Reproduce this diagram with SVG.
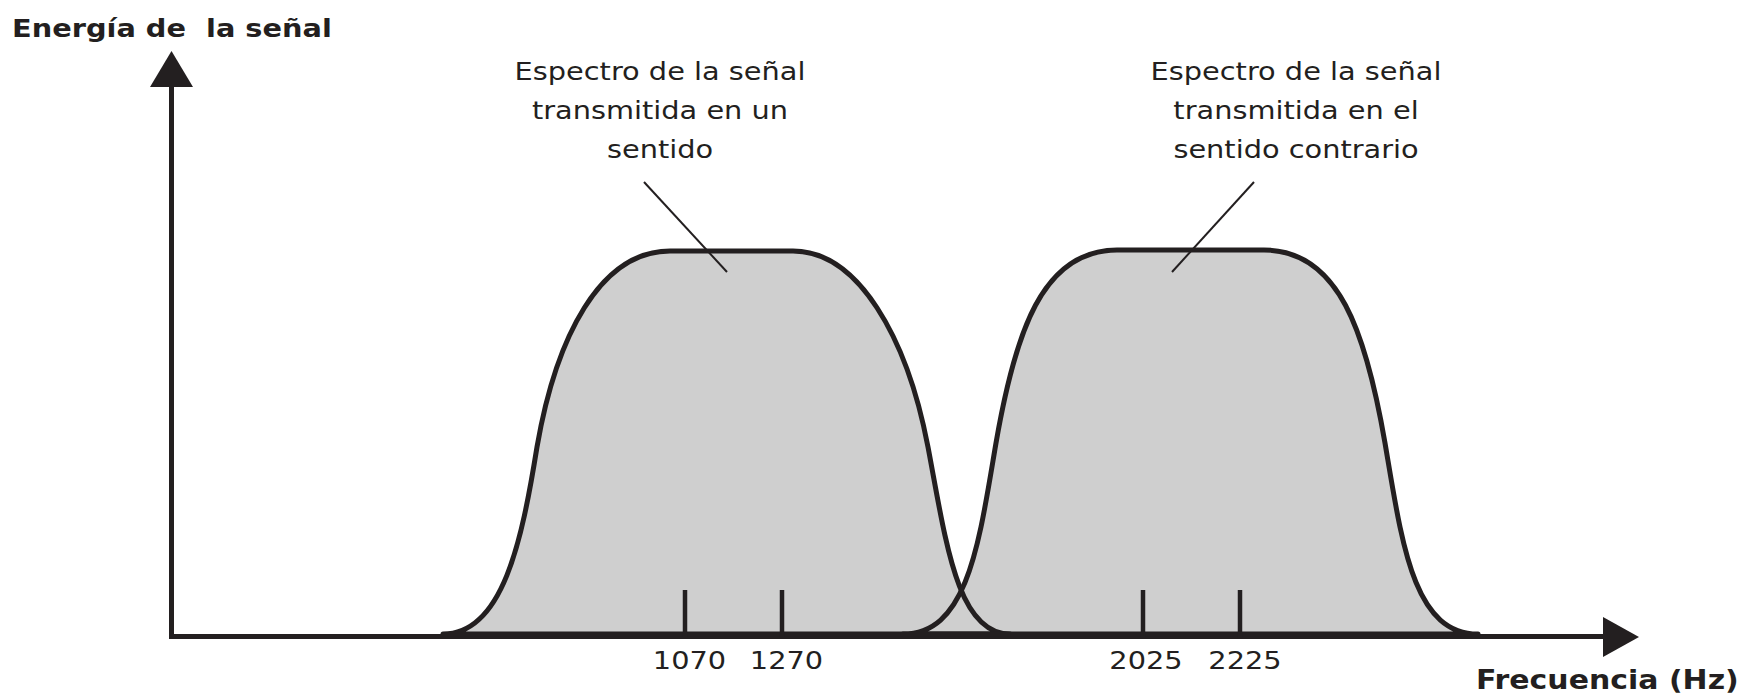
<svg xmlns="http://www.w3.org/2000/svg" width="1739" height="695" viewBox="0 0 1739 695">
<style>
.bump{fill:#cfcfcf;stroke:none}
.outline{fill:none;stroke:#231f20;stroke-width:5;stroke-linejoin:round}
.axis{stroke:#231f20;stroke-width:5;fill:none}
.tick{stroke:#231f20;stroke-width:4.5}
.lead{stroke:#231f20;stroke-width:2}
.head{fill:#231f20}
.t{font-family:"DejaVu Sans",Verdana,sans-serif;font-size:25.5px;fill:#231f20}
.b{font-family:"DejaVu Sans",Verdana,sans-serif;font-size:25.5px;font-weight:bold;fill:#231f20}
</style>
<g id="spectra-fill">
<path class="bump" d="M443,634 C503,634 522,540 537,447 C556,337 600,251 670,251 L793,251 C858,251 907,337 928,447 C946,542 957,634 1010,634 Z"/>
<path class="bump" d="M903,634 C968,634 979,543 996,443 C1015,333 1042,250 1117,250 L1264,250 C1339,250 1366,333 1385,443 C1402,543 1413,634 1478,634 Z"/>
</g>
<g id="axes">
<line class="axis" x1="169" y1="636.5" x2="1606" y2="636.5"/>
<line class="axis" x1="171.5" y1="639" x2="171.5" y2="84"/>
<polygon class="head" points="171.5,51 150,87 193,87"/>
<polygon class="head" points="1639,637 1603,617 1603,657"/>
</g>
<g id="spectrum-1">
<path class="outline" d="M443,634 C503,634 522,540 537,447 C556,337 600,251 670,251 L793,251 C858,251 907,337 928,447 C946,542 957,634 1010,634 Z"/>
</g>
<g id="spectrum-2">
<path class="outline" d="M903,634 C968,634 979,543 996,443 C1015,333 1042,250 1117,250 L1264,250 C1339,250 1366,333 1385,443 C1402,543 1413,634 1478,634 Z"/>
</g>
<g id="ticks">
<line class="tick" x1="685" y1="590" x2="685" y2="637"/>
<line class="tick" x1="782" y1="590" x2="782" y2="637"/>
<line class="tick" x1="1143" y1="590" x2="1143" y2="637"/>
<line class="tick" x1="1240" y1="590" x2="1240" y2="637"/>
<text class="t" text-anchor="middle" transform="translate(689.5 669) scale(1.13 1)">1070</text>
<text class="t" text-anchor="middle" transform="translate(786.5 669) scale(1.13 1)">1270</text>
<text class="t" text-anchor="middle" transform="translate(1146 669) scale(1.13 1)">2025</text>
<text class="t" text-anchor="middle" transform="translate(1245 669) scale(1.13 1)">2225</text>
</g>
<g id="connectors">
<line class="lead" x1="644" y1="182" x2="727" y2="272"/>
<line class="lead" x1="1254" y1="182" x2="1172" y2="272"/>
</g>
<g id="label-1">
<text class="t" text-anchor="middle" transform="translate(660 80) scale(1.13 1)">Espectro de la señal</text>
<text class="t" text-anchor="middle" transform="translate(660 119) scale(1.13 1)">transmitida en un</text>
<text class="t" text-anchor="middle" transform="translate(660 158) scale(1.13 1)">sentido</text>
</g>
<g id="label-2">
<text class="t" text-anchor="middle" transform="translate(1296 80) scale(1.13 1)">Espectro de la señal</text>
<text class="t" text-anchor="middle" transform="translate(1296 119) scale(1.13 1)">transmitida en el</text>
<text class="t" text-anchor="middle" transform="translate(1296 158) scale(1.13 1)">sentido contrario</text>
</g>
<g id="axis-labels">
<text class="b" xml:space="preserve" transform="translate(12 37) scale(1.13 1)">Energía de  la señal</text>
<text class="b" style="font-size:26.5px" transform="translate(1476 689) scale(1.13 1)">Frecuencia (Hz)</text>
</g>
</svg>
